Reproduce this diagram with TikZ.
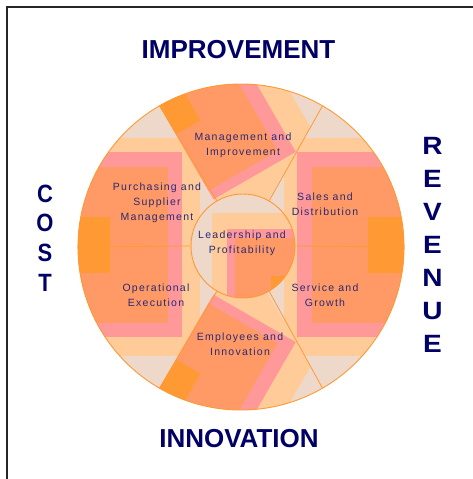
\documentclass[tikz,border=0pt]{standalone}
\usepackage{fontspec}
\usepackage{graphicx}
\setmainfont{Liberation Sans}
\newfontfamily\lblfont[LetterSpace=12]{Liberation Sans}
\usetikzlibrary{calc}
\definecolor{haze}{HTML}{EDD8C9}
\definecolor{peach}{HTML}{FFCC99}
\definecolor{rosy}{HTML}{FF9999}
\definecolor{salmon}{HTML}{FF9966}
\definecolor{amber}{HTML}{FF9933}
\definecolor{ink}{HTML}{2A2A72}
\definecolor{navy}{HTML}{000066}
% one nested band of a rotated shading, in (u,v) scope units
\newcommand\band[3]{\fill[#1] (-40,-40) -- (#2,-40) -- (#2,#3) -- (-40,#3) -- cycle;}
\begin{document}
\begin{tikzpicture}[x=1pt,y=-1pt,
  lbl/.style={font=\lblfont\fontsize{10.5}{15}\selectfont, text=ink, align=center, inner sep=0pt},
  axislabel/.style={font=\bfseries\fontsize{26}{30}\selectfont, text=navy, inner sep=0pt},
  sidelabel/.style={font=\bfseries\fontsize{25}{30}\selectfont, text=navy, inner sep=0pt},
  rimline/.style={draw=amber, line width=0.9pt},
  spoke/.style={draw=amber, line width=0.8pt}]
\useasboundingbox (0,0) rectangle (473,479);
\coordinate (C) at (241,247);

% left half-disc: shading anchored on the left rim
\begin{scope}
  \clip (C) -- ++(120:163) arc[start angle=120,end angle=240,radius=163] -- cycle;
  \fill[haze] (0,0) rectangle (473,479);
  \fill[peach] (60,138) rectangle (200,356);
  \fill[rosy] (60,152) rectangle (182,337);
  \fill[salmon] (60,167) rectangle (168,323);
  \fill[amber] (60,217) rectangle (110,273);
\end{scope}

% right half-disc
\begin{scope}
  \clip (C) -- ++(-60:163) arc[start angle=-60,end angle=60,radius=163] -- cycle;
  \fill[haze] (0,0) rectangle (473,479);
  \fill[peach] (284,138) rectangle (420,356);
  \fill[rosy] (297,152) rectangle (420,337);
  \fill[salmon] (312,167) rectangle (420,323);
  \fill[amber] (368,217) rectangle (420,273);
\end{scope}

% top wedge: tilted shading along its left edge
\begin{scope}
  \clip (C) -- ++(-120:163) arc[start angle=-120,end angle=-60,radius=163] -- cycle;
  \fill[haze] (0,0) rectangle (473,479);
  \begin{scope}[x={(0.5pt,-0.866pt)}, y={(0.866pt,0.5pt)}, shift={(159.5pt,-105.84pt)}]
    \band{peach}{140}{120}
    \band{rosy}{108}{95}
    \band{salmon}{98}{80}
    \band{amber}{33}{28}
  \end{scope}
\end{scope}

% bottom wedge: mirror of the top one
\begin{scope}
  \clip (C) -- ++(60:163) arc[start angle=60,end angle=120,radius=163] -- cycle;
  \fill[haze] (0,0) rectangle (473,479);
  \begin{scope}[x={(0.5pt,0.866pt)}, y={(0.866pt,-0.5pt)}, shift={(159.5pt,-388.16pt)}]
    \band{peach}{140}{120}
    \band{rosy}{108}{95}
    \band{salmon}{98}{80}
    \band{amber}{33}{28}
  \end{scope}
\end{scope}

% hub shading
\begin{scope}
  \clip (243,246) circle[radius=52];
  \fill[haze] (180,180) rectangle (300,300);
  \fill[peach] (212,213) rectangle (300,300);
  \fill[rosy] (227,229) rectangle (300,300);
  \fill[salmon] (235,238) rectangle (300,300);
  \fill[amber] (271,276) rectangle (300,300);
\end{scope}
\node[circle, minimum size=104pt, inner sep=0pt, draw=amber, line width=0.9pt] (hub) at (243,246) {};

% spokes from hub to rim
\foreach \a in {0,60,120,180,240,300}
  \coordinate (rim\a) at ($(C)+(-\a:163)$);
\foreach \a in {0,60,120,180,240,300}
  \draw[spoke] (hub.\a) -- (rim\a);
\draw[rimline] (C) circle[radius=163];

% segment labels
\node[lbl] (mgmt) at (243,145.5) {Management and\\Improvement};
\node[lbl] (purch) at (157,203) {Purchasing and\\Supplier\\Management};
\node[lbl] (sales) at (325,204) {Sales and\\Distribution};
\node[lbl] (lead) at (242,243.5) {Leadership and\\Profitability};
\node[lbl] (oper) at (156,295) {Operational\\Execution};
\node[lbl] (serv) at (325,295) {Service and\\Growth};
\node[lbl] (empl) at (240,344.5) {Employees and\\Innovation};

% axis captions
\node[axislabel] (impr) at (238.5,49.5) {IMPROVEMENT};
\node[axislabel] (innov) at (239,439) {INNOVATION};
\foreach \l/\y [count=\i] in {R/146,E/179,V/212,E/245,N/278,U/311,E/344}
  \node[sidelabel] (rev\i) at (432.5,\y) {\scalebox{1.12}[1]{\l}};
\foreach \l/\y [count=\i] in {C/194,O/223,S/253,T/283}
  \node[sidelabel] (cost\i) at (45,\y) {\scalebox{0.88}[1]{\l}};

% frame edges
\draw[line width=1.3pt, black!85] (7,479) -- (7,7) -- (473,7);
\end{tikzpicture}
\end{document}
